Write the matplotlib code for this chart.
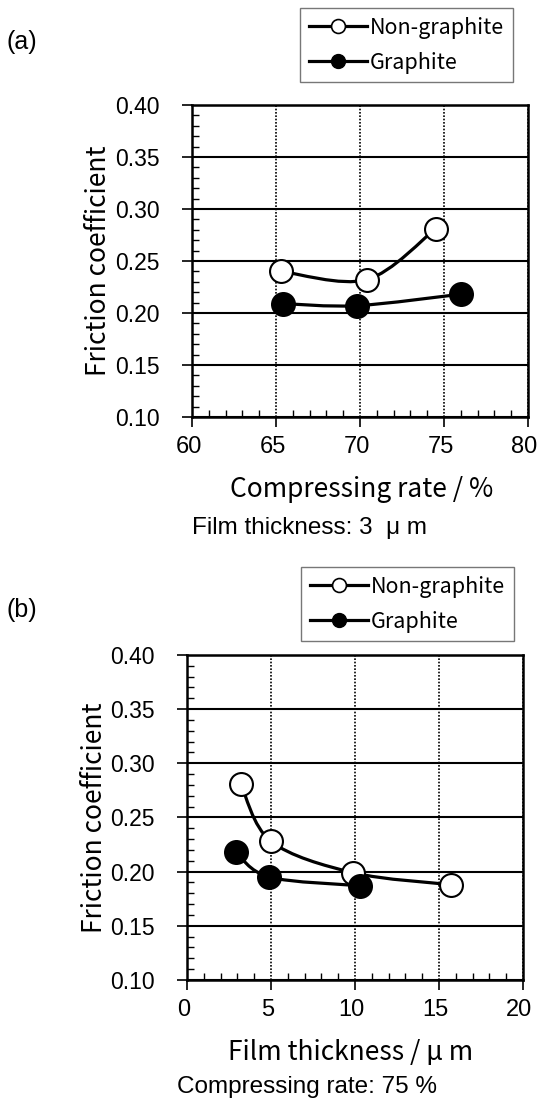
import matplotlib
matplotlib.use("Agg")
import matplotlib.pyplot as plt
from matplotlib.path import Path
from matplotlib.patches import PathPatch
from matplotlib.lines import Line2D
from matplotlib.ticker import MultipleLocator
from matplotlib.transforms import ScaledTranslation

# (a) friction vs compressing rate, film 3 um
rate_nongr = [65.3, 70.4, 74.5]
mu_rate_nongr = [0.240, 0.232, 0.281]
rate_gr = [65.4, 69.8, 76.0]
mu_rate_gr = [0.209, 0.207, 0.218]

# (b) friction vs film thickness, compressing rate 75 %
thick_nongr = [3.2, 5.0, 9.9, 15.7]
mu_thick_nongr = [0.281, 0.228, 0.199, 0.188]
thick_gr = [2.9, 4.9, 10.3]
mu_thick_gr = [0.218, 0.195, 0.187]

yticks = [0.10, 0.15, 0.20, 0.25, 0.30, 0.35, 0.40]

CJK = ["Noto Sans CJK JP", "DejaVu Sans"]
ARIAL = ["Liberation Sans", "DejaVu Sans"]


def smooth_line(ax, xs, ys, **kw):
    # Catmull-Rom style smoothed line, built as cubic Bezier segments
    pts = list(zip(xs, ys))
    n = len(pts)
    verts = [pts[0]]
    codes = [Path.MOVETO]
    for i in range(n - 1):
        p0 = pts[i - 1] if i > 0 else pts[i]
        p1 = pts[i]
        p2 = pts[i + 1]
        p3 = pts[i + 2] if i + 2 < n else pts[i + 1]
        c1 = (p1[0] + (p2[0] - p0[0]) / 6, p1[1] + (p2[1] - p0[1]) / 6)
        c2 = (p2[0] - (p3[0] - p1[0]) / 6, p2[1] - (p3[1] - p1[1]) / 6)
        verts += [c1, c2, p2]
        codes += [Path.CURVE4] * 3
    ax.add_patch(PathPatch(Path(verts, codes), fill=False, transform=ax.transData, **kw))


def draw_panel(fig, ax, xlim, xstep, series, ylab_x):
    ax.set_xlim(*xlim)
    ax.set_ylim(0.10, 0.40)
    ax.set_yticks(yticks)
    ax.set_yticklabels(["%.2f" % v for v in yticks])
    ax.xaxis.set_major_locator(MultipleLocator(xstep))
    ax.xaxis.set_minor_locator(MultipleLocator(xstep / 5))
    ax.yaxis.set_minor_locator(MultipleLocator(0.01))
    ax.tick_params(which="major", direction="out", length=7, width=1.2)
    ax.tick_params(which="minor", direction="in", length=5, width=1.0)
    ax.tick_params(axis="y", which="major", pad=16, labelsize=16.5)
    ax.tick_params(axis="x", which="major", pad=7, labelsize=17)
    # x tick labels sit a little left of their ticks
    shift = ScaledTranslation(-3.5 / 100, 0, fig.dpi_scale_trans)
    for lab in ax.get_xticklabels():
        lab.set_fontfamily(ARIAL)
        lab.set_transform(lab.get_transform() + shift)
    for lab in ax.get_yticklabels():
        lab.set_fontfamily(ARIAL)
    for sp in ax.spines.values():
        sp.set_linewidth(1.8)
    ax.yaxis.grid(True, color="black", linewidth=1.5)
    ax.xaxis.grid(True, color="black", linewidth=1.2, linestyle=(0, (1, 1)))
    ax.set_axisbelow(True)
    for xs, ys, face in series:
        smooth_line(ax, xs, ys, edgecolor="black", linewidth=2.3, zorder=3)
        ax.plot(xs, ys, linestyle="none", marker="o", markersize=16.5,
                markerfacecolor=face, markeredgecolor="black",
                markeredgewidth=1.5, zorder=4)
    ax.set_ylabel("Friction coefficient", fontsize=19, family=CJK)
    ax.yaxis.set_label_coords(ylab_x, 0.5)


def add_legend(ax, fig, x, y):
    handles = [
        Line2D([], [], color="black", lw=2.3, marker="o", markersize=10,
               markerfacecolor="white", markeredgecolor="black", markeredgewidth=1.2),
        Line2D([], [], color="black", lw=2.3, marker="o", markersize=10,
               markerfacecolor="black", markeredgecolor="black"),
    ]
    leg = ax.legend(handles, ["Non-graphite", "Graphite"], loc="upper left",
                    bbox_to_anchor=(x, y), bbox_transform=fig.transFigure,
                    frameon=True, fancybox=False, borderaxespad=0,
                    prop={"family": CJK, "size": 15.5}, handlelength=2.7,
                    handletextpad=0.15, labelspacing=0.6, borderpad=0.4)
    leg.get_frame().set_edgecolor("#555555")
    leg.get_frame().set_linewidth(1.0)


fig = plt.figure(figsize=(5.38, 11.01), dpi=100)

ax_a = fig.add_axes([0.3569, 0.6213, 0.6245, 0.2834])
draw_panel(fig, ax_a, (60, 80), 5, [
    (rate_nongr, mu_rate_nongr, "white"),
    (rate_gr, mu_rate_gr, "black"),
], -0.238)
ax_a.set_xlabel("Compressing rate / %", fontsize=19, family=CJK)
ax_a.xaxis.set_label_coords(0.506, -0.234)
ax_a.xaxis.label.set_va("center")
add_legend(ax_a, fig, 300 / 538, 1 - 8 / 1101)
fig.text(7 / 538, 1 - 42 / 1101, "(a)", fontsize=18, family=ARIAL, va="center")
fig.text(192 / 538, 1 - 528 / 1101, "Film thickness: 3  \u03bc m", fontsize=17.5,
         family=ARIAL, va="center")

ax_b = fig.add_axes([0.3476, 0.1099, 0.6245, 0.2952])
draw_panel(fig, ax_b, (0, 20), 5, [
    (thick_nongr, mu_thick_nongr, "white"),
    (thick_gr, mu_thick_gr, "black"),
], -0.235)
ax_b.set_xlabel("Film thickness / \u03bc m", fontsize=19, family=CJK)
ax_b.xaxis.set_label_coords(0.488, -0.223)
ax_b.xaxis.label.set_va("center")
add_legend(ax_b, fig, 301 / 538, 1 - 567 / 1101)
fig.text(7 / 538, 1 - 610 / 1101, "(b)", fontsize=18, family=ARIAL, va="center")
fig.text(177 / 538, 1 - 1087 / 1101, "Compressing rate: 75 %", fontsize=17.5,
         family=ARIAL, va="center")

fig.savefig("out.png", dpi=100)
